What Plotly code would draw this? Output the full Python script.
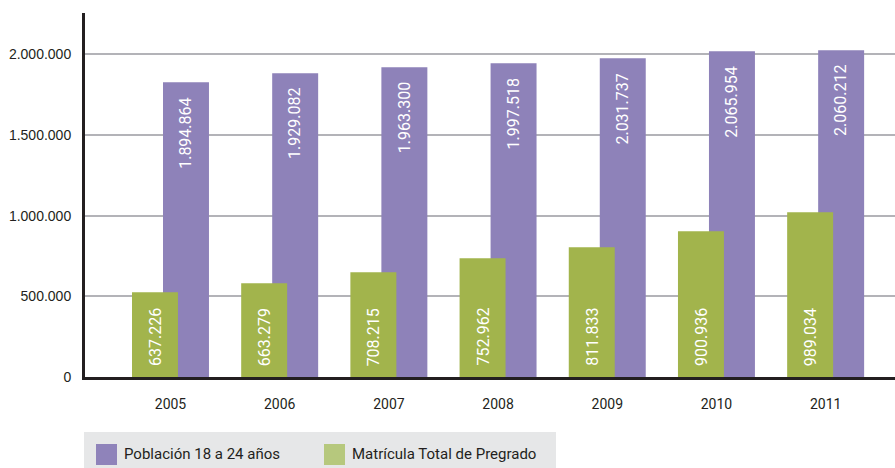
import plotly.graph_objects as go

# ---- data ----
years = ["2005", "2006", "2007", "2008", "2009", "2010", "2011"]
# bar heights as drawn in the picture
poblacion_bar = [1827000, 1883000, 1920000, 1945000, 1976000, 2020000, 2026000]
matricula_bar = [525000, 581000, 649000, 736000, 804000, 904000, 1021000]
# printed value labels
poblacion_lbl = ["1.894.864", "1.929.082", "1.963.300", "1.997.518", "2.031.737", "2.065.954", "2.060.212"]
matricula_lbl = ["637.226", "663.279", "708.215", "752.962", "811.833", "900.936", "989.034"]
y_ticks = [0, 500000, 1000000, 1500000, 2000000]
y_ticktext = ["0", "500.000", "1.000.000", "1.500.000", "2.000.000"]
legend_names = ["Población 18 a 24 años", "Matrícula Total de Pregrado"]

# ---- style ----
PURPLE = "#8e82b9"
GREEN = "#a2b44c"
PURPLE_LEG = "#8f83ba"
GREEN_LEG = "#b6c87d"
DARK = "#231f20"
FONT = "Roboto, sans-serif"

W, H = 895, 468
ML, MR, MT, MB = 85, 0, 13, 91
PW, PH = W - ML - MR, H - MT - MB

BAR_W = 0.421
GREEN_OFF = -0.3526
PURPLE_OFF = -0.0687

idx = list(range(len(years)))

fig = go.Figure()
fig.add_trace(go.Bar(x=idx, y=poblacion_bar, width=BAR_W, offset=PURPLE_OFF,
                     marker=dict(color=PURPLE, line=dict(width=0)),
                     name=legend_names[0], showlegend=False, hoverinfo="skip"))
fig.add_trace(go.Bar(x=idx, y=matricula_bar, width=BAR_W, offset=GREEN_OFF,
                     marker=dict(color=GREEN, line=dict(width=0)),
                     name=legend_names[1], showlegend=False, hoverinfo="skip"))

annotations = []
for i in idx:
    annotations.append(dict(x=i + PURPLE_OFF + BAR_W / 2, y=poblacion_bar[i], xref="x", yref="y",
                            text=poblacion_lbl[i], textangle=-90, showarrow=False,
                            xanchor="center", yanchor="top", yshift=-13,
                            font=dict(family=FONT, size=16, color="white")))
    annotations.append(dict(x=i + GREEN_OFF + BAR_W / 2, y=0, xref="x", yref="y",
                            text=matricula_lbl[i], textangle=-90, showarrow=False,
                            xanchor="center", yanchor="bottom", yshift=9,
                            font=dict(family=FONT, size=16, color="white")))


def px_x(p):
    return (p - ML) / PW


def px_y(p):
    return (H - MB - p) / PH


shapes = [
    dict(type="rect", xref="paper", yref="paper", x0=px_x(84), x1=px_x(556),
         y0=px_y(432), y1=px_y(470), fillcolor="#e6e7e8", line=dict(width=0), layer="below"),
    dict(type="rect", xref="paper", yref="paper", x0=px_x(96), x1=px_x(117),
         y0=px_y(444), y1=px_y(465), fillcolor=PURPLE_LEG, line=dict(width=0)),
    dict(type="rect", xref="paper", yref="paper", x0=px_x(324), x1=px_x(345),
         y0=px_y(444), y1=px_y(465), fillcolor=GREEN_LEG, line=dict(width=0)),
]
annotations.append(dict(x=px_x(122), y=px_y(454.5), xref="paper", yref="paper",
                        text=legend_names[0], showarrow=False, xanchor="left", yanchor="middle",
                        font=dict(family=FONT, size=15, color=DARK)))
annotations.append(dict(x=px_x(350), y=px_y(454.5), xref="paper", yref="paper",
                        text=legend_names[1], showarrow=False, xanchor="left", yanchor="middle",
                        font=dict(family=FONT, size=15, color=DARK)))

fig.update_layout(
    width=W, height=H, autosize=False,
    margin=dict(l=ML, r=MR, t=MT, b=MB, pad=0),
    paper_bgcolor="white", plot_bgcolor="white",
    barmode="overlay", showlegend=False,
    shapes=shapes, annotations=annotations,
    xaxis=dict(range=[-0.783, 6.635], tickvals=idx, ticktext=years, showgrid=False,
               zeroline=False, showline=True, linewidth=3, linecolor=DARK, ticks="",
               tickfont=dict(family=FONT, size=14, color=DARK), ticklabelstandoff=12),
    yaxis=dict(range=[0, 2257000], tickvals=y_ticks, ticktext=y_ticktext, showgrid=True,
               gridcolor="#b3b3b8", gridwidth=1.5, zeroline=False, showline=True,
               linewidth=3, linecolor=DARK, ticks="",
               tickfont=dict(family="Liberation Sans, Arial, sans-serif", size=14, color=DARK),
               ticklabelstandoff=8),
)

fig.write_html("out.html", config={"displayModeBar": False},
               post_script="document.body.style.margin='0';document.body.style.overflow='hidden';")
